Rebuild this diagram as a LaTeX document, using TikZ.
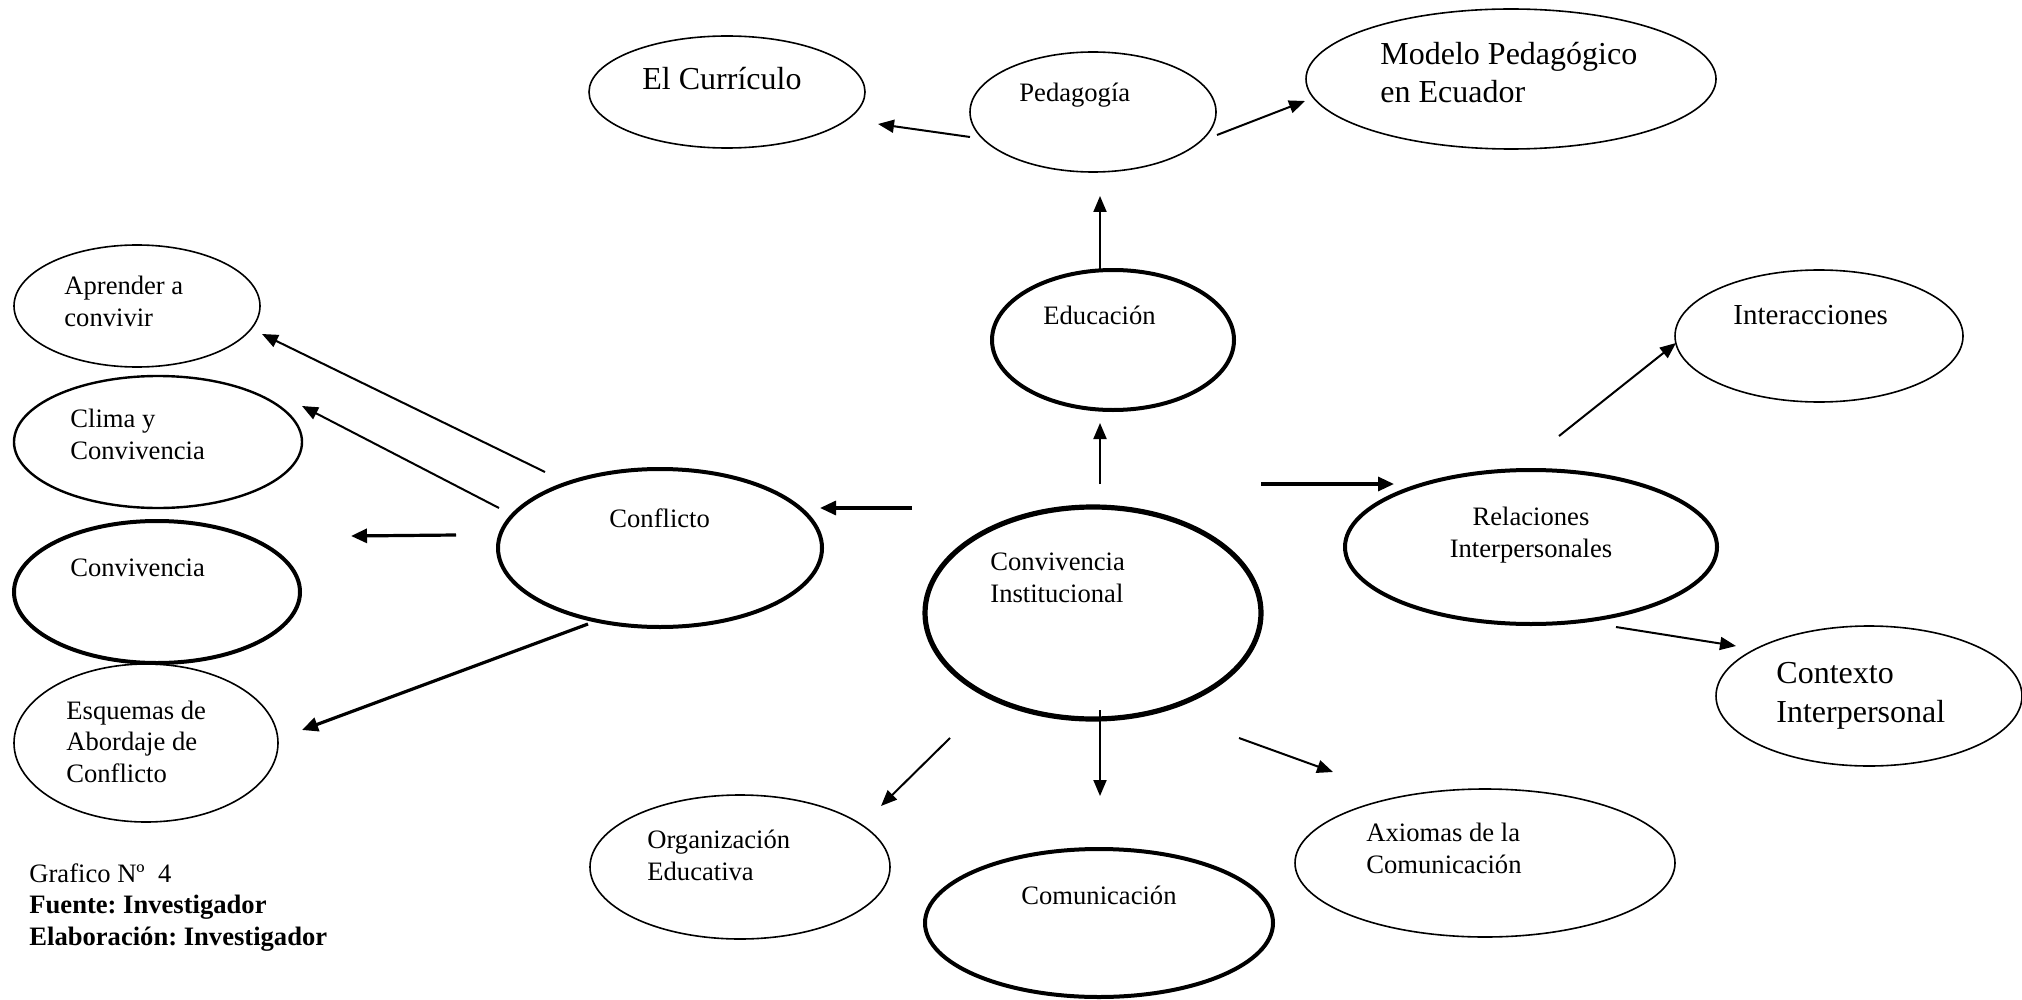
\documentclass[tikz,border=0pt]{standalone}
\usepackage{fontspec}
\setmainfont{Liberation Serif}
\usetikzlibrary{shapes.geometric,arrows.meta}
\frenchspacing
\newcommand\smf{\fontsize{13.3}{15.7}\selectfont}
\newcommand\mdf{\fontsize{14.5}{17.5}\selectfont}
\newcommand\lgf{\fontsize{16}{19.3}\selectfont}
\tikzset{
  el/.style={draw, ellipse, inner sep=0pt, outer sep=0pt, line width=0.8pt},
  elm/.style={el, line width=1.2pt},
  elt/.style={el, line width=2pt},
  elx/.style={el, line width=2.6pt},
  txt/.style={font=\smf, align=left, anchor=base west, inner sep=0pt},
  arr/.style={-{Triangle[length=8pt,width=6.5pt]}, line width=1pt},
  arrb/.style={-{Triangle[length=8pt,width=7pt]}, line width=1.6pt},
}
\begin{document}
\begin{tikzpicture}[x=0.5pt,y=-0.5pt]
\useasboundingbox (0,0) rectangle (2022,1000);
% ellipses (sizes in pt = half of pixel size)
\node[el, minimum width=138pt, minimum height=56pt] (cur) at (727,92) {};
\node[el, minimum width=123pt, minimum height=60pt] (ped) at (1093,112) {};
\node[el, minimum width=205pt, minimum height=70pt] (mod) at (1511,79) {};
\node[el, minimum width=123pt, minimum height=61pt] (apr) at (137,306) {};
\node[elm, minimum width=144pt, minimum height=66pt] (cli) at (158,442) {};
\node[elt, minimum width=143pt, minimum height=71pt] (conv) at (157,592) {};
\node[el, minimum width=132pt, minimum height=79pt] (esq) at (146,743) {};
\node[elt, minimum width=162pt, minimum height=79pt] (conf) at (660,548) {};
\node[elx, minimum width=168pt, minimum height=106pt] (ci) at (1093,613) {};
\node[elt, minimum width=121pt, minimum height=70pt] (edu) at (1113,340) {};
\node[el, minimum width=144pt, minimum height=66pt] (int) at (1819,336) {};
\node[elt, minimum width=186pt, minimum height=77pt] (rel) at (1531,547) {};
\node[el, minimum width=153pt, minimum height=70pt] (ctx) at (1869,696) {};
\node[el, minimum width=150pt, minimum height=72pt] (org) at (740,867) {};
\node[elt, minimum width=174pt, minimum height=74pt] (com) at (1099,923) {};
\node[el, minimum width=190pt, minimum height=74pt] (axi) at (1485,863) {};
% texts (multi-line nodes: base = last line)
\node[txt, font=\lgf] (curT) at (642,90) {El Currículo};
\node[txt] (pedT) at (1019,102) {Pedagogía};
\node[txt, font=\lgf] (modT) at (1380,103) {Modelo Pedagógico\\en Ecuador};
\node[txt] (aprT) at (64,326) {Aprender a\\convivir};
\node[txt] (cliT) at (70,459) {Clima y\\Convivencia};
\node[txt] (convT) at (70,576) {Convivencia};
\node[txt] (esqT) at (66,782) {Esquemas de\\Abordaje de\\Conflicto};
\node[txt] (confT) at (609,527) {Conflicto};
\node[txt] (ciT) at (990,602) {Convivencia\\Institucional};
\node[txt] (eduT) at (1043,324) {Educación};
\node[txt, font=\mdf] (intT) at (1733,324) {Interacciones};
\node[txt, align=center, anchor=base] (relT) at (1531,557) {Relaciones\\Interpersonales};
\node[txt, font=\lgf] (ctxT) at (1776,722) {Contexto\\Interpersonal};
\node[txt] (orgT) at (647,880) {Organización\\Educativa};
\node[txt] (comT) at (1021,904) {Comunicación};
\node[txt] (axiT) at (1366,873) {Axiomas de la\\Comunicación};
\node[txt] (capT) at (29,945) {Grafico Nº\ \ 4\\\textbf{Fuente: Investigador}\\\textbf{Elaboración: Investigador}};
% arrow end points
\coordinate (a1s) at (970,137); \coordinate (a1e) at (878,124);
\coordinate (a2s) at (1217,135); \coordinate (a2e) at (1305,101);
\coordinate (a3s) at (1100,270); \coordinate (a3e) at (1100,196);
\coordinate (a4s) at (1100,484); \coordinate (a4e) at (1100,423);
\coordinate (a5s) at (912,508); \coordinate (a5e) at (820,508);
\coordinate (a6s) at (1261,484); \coordinate (a6e) at (1394,484);
\coordinate (a7s) at (1559,436); \coordinate (a7e) at (1676,343);
\coordinate (a8s) at (1616,627); \coordinate (a8e) at (1736,646);
\coordinate (a9s) at (1100,710); \coordinate (a9e) at (1100,796);
\coordinate (a10s) at (1239,738); \coordinate (a10e) at (1333,772);
\coordinate (a11s) at (950,738); \coordinate (a11e) at (881,806);
\coordinate (a12s) at (545,472); \coordinate (a12e) at (262,334);
\coordinate (a13s) at (499,508); \coordinate (a13e) at (302,406);
\coordinate (a14s) at (456,535); \coordinate (a14e) at (351,536);
\coordinate (a15s) at (588,624); \coordinate (a15e) at (302,730);
% arrows
\draw[arr] (a1s) -- (a1e);
\draw[arr] (a2s) -- (a2e);
\draw[arr] (a3s) -- (a3e);
\draw[arr] (a4s) -- (a4e);
\draw[arrb] (a5s) -- (a5e);
\draw[arrb] (a6s) -- (a6e);
\draw[arr] (a7s) -- (a7e);
\draw[arr] (a8s) -- (a8e);
\draw[arr] (a9s) -- (a9e);
\draw[arr] (a10s) -- (a10e);
\draw[arr] (a11s) -- (a11e);
\draw[arr] (a12s) -- (a12e);
\draw[arr] (a13s) -- (a13e);
\draw[arrb] (a14s) -- (a14e);
\draw[arrb] (a15s) -- (a15e);
\end{tikzpicture}
\end{document}
